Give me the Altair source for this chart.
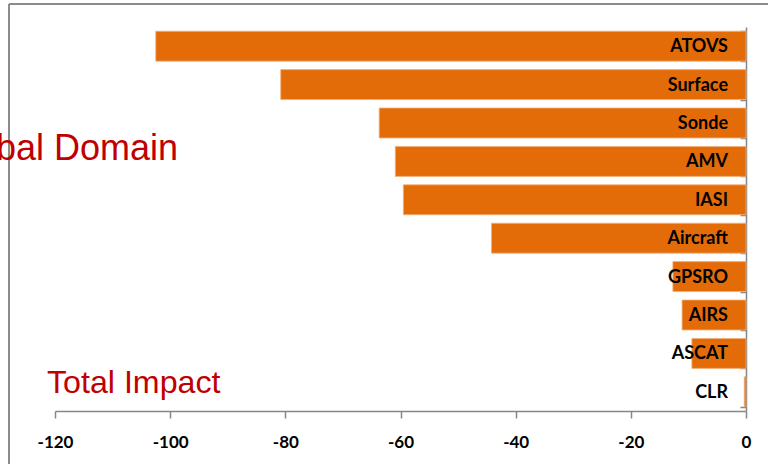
import altair as alt
import pandas as pd

# Observation types and their total impact
systems = ["ATOVS", "Surface", "Sonde", "AMV", "IASI", "Aircraft",
           "GPSRO", "AIRS", "ASCAT", "CLR"]
impact = [-102.5, -80.8, -63.7, -60.9, -59.5, -44.2, -12.7, -11.1, -9.4, -0.3]
x_ticks = [-120, -100, -80, -60, -40, -20, 0]

df = pd.DataFrame({"system": systems, "impact": impact})

W, H = 691, 384
grey = "#868686"
orange = "#E36C09"
red = "#C00000"

x_enc = alt.X(
    "impact:Q",
    scale=alt.Scale(domain=[-120, 0], nice=False),
    axis=alt.Axis(
        values=x_ticks, title=None, grid=False, labelFlush=False,
        labelExpr="'' + datum.value",
        domainColor=grey, tickColor=grey, tickSize=7, domainWidth=1.5, tickWidth=1.5,
        labelFont="Lato", labelFontWeight="bold", labelFontSize=17,
        labelColor="#000000", labelPadding=16,
    ),
)
y_enc = alt.Y(
    "system:N",
    sort=systems,
    scale=alt.Scale(paddingInner=0.22, paddingOuter=0.11),
    axis=alt.Axis(
        orient="left", offset=-W, labels=False, title=None, grid=False,
        tickBand="extent", domainColor=grey, tickColor=grey,
        tickSize=6, domainWidth=1.5, tickWidth=1.5,
    ),
)

bars = alt.Chart(df).mark_bar(
    color=orange, stroke="#F3B07A", strokeWidth=0.8
).encode(x=x_enc, x2=alt.datum(0), y=y_enc)

labels = alt.Chart(df).mark_text(
    align="right", baseline="middle", font="Lato", fontWeight="bold",
    fontSize=18, color="#000000", dy=1,
).encode(x=alt.value(W - 18), y=alt.Y("system:N", sort=systems), text="system:N")

# Outer frame of the figure
frame_v = alt.Chart(df).mark_rule(color="#8c8c8c", strokeWidth=1.5).encode(
    x=alt.value(-46), y=alt.value(-23), y2=alt.value(H + 60)
)
frame_h = alt.Chart(df).mark_rule(color="#8c8c8c", strokeWidth=1.5).encode(
    x=alt.value(-46), x2=alt.value(W + 40), y=alt.value(-23)
)

title_df = pd.DataFrame({"t": ["Global Domain"]})
sub_df = pd.DataFrame({"t": ["Total Impact"]})
domain_txt = alt.Chart(title_df).mark_text(
    align="right", baseline="alphabetic", font="Liberation Sans",
    fontSize=36, color=red,
).encode(x=alt.value(123), y=alt.value(133), text="t:N")
total_txt = alt.Chart(sub_df).mark_text(
    align="left", baseline="alphabetic", font="Liberation Sans",
    fontSize=32.2, color=red,
).encode(x=alt.value(-8), y=alt.value(366), text="t:N")

chart = alt.layer(frame_v, frame_h, bars, labels, domain_txt, total_txt).properties(
    width=W, height=H,
    padding={"left": 55, "top": 27, "right": 22, "bottom": 53},
    autosize=alt.AutoSizeParams(type="none"),
    background="#ffffff",
).configure_view(stroke=None)

chart.save("out.html", embed_options={"renderer": "svg", "actions": False})
